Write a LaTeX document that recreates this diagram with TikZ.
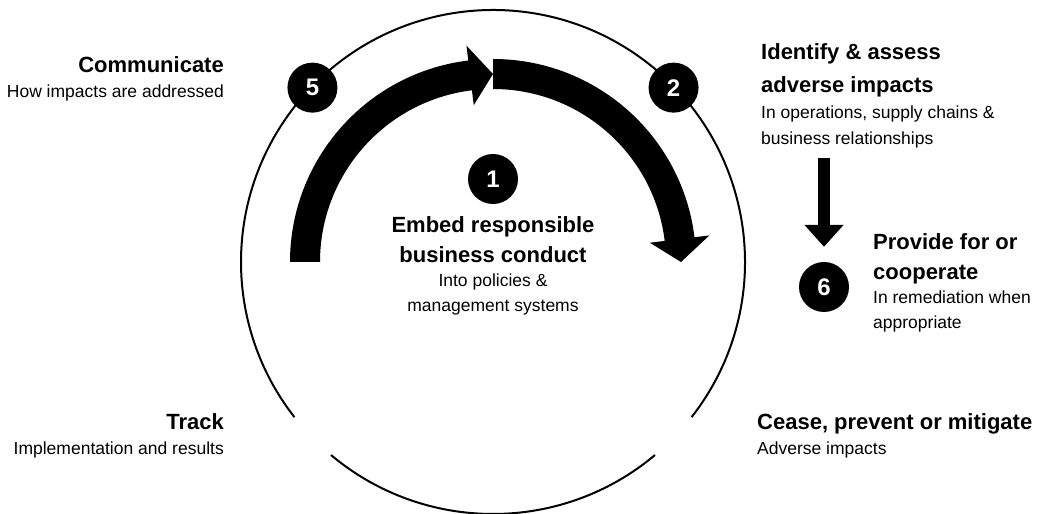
\documentclass[tikz,border=0pt]{standalone}
\usepackage{fontspec}
\setmainfont{Liberation Sans}
\usetikzlibrary{positioning, arrows.meta, calc}
\tikzset{
  ring/.style={line width=2pt, draw=black},
  band/.style={fill=black},
  badge/.style={circle, fill=black, text=white, minimum size=50pt, inner sep=0pt,
    font=\fontsize{24}{24}\selectfont\bfseries},
  ttl/.style={inner sep=0pt, font=\fontsize{22}{26}\selectfont\bfseries,
    text height=20pt, text depth=9pt},
  dsc/.style={inner sep=0pt, font=\fontsize{17.5}{20}\selectfont,
    text height=15pt, text depth=9pt},
  down/.style={-{Triangle[width=38pt,length=22pt]}, line width=12pt,
    shorten <=5pt, shorten >=15pt},
}

\begin{document}
\begin{tikzpicture}[x=1pt, y=1pt]
  \fill[white] (0,0) rectangle (1039,514);
  \useasboundingbox (0,0) rectangle (1039,514);
  \coordinate (c) at (493,252);

  % ring, open near steps 3 and 4
  \draw[ring] ($(c)+(-38:252)$) arc[start angle=-38, end angle=218, radius=252];
  \draw[ring] ($(c)+(230:252)$) arc[start angle=230, end angle=310, radius=252];

  % the two curved arrows
  \fill[band] ($(c)+(180:203)$) arc[start angle=180, end angle=97, radius=203]
    -- ($(c)+(97:218)$) -- ($(c)+(90:188)$) -- ($(c)+(97:158)$)
    -- ($(c)+(97:173)$) arc[start angle=97, end angle=180, radius=173] -- cycle;
  \fill[band] ($(c)+(90:203)$) arc[start angle=90, end angle=7, radius=203]
    -- ($(c)+(7:218)$) -- ($(c)+(0:188)$) -- ($(c)+(7:158)$)
    -- ($(c)+(7:173)$) arc[start angle=7, end angle=90, radius=173] -- cycle;

  % number badges
  \node[badge] (m1) at (493,335) {1};
  \node[badge] (m5) at ($(c)+(136:251)$) {5};
  \node[badge] (m2) at ($(c)+(44:251)$) {2};
  \node[badge] (m6) at (824,227) {6};

  % 1
  \node[ttl, anchor=base] (embed) at (493,281) {Embed responsible};
  \node[ttl, below=0pt of embed] (embedb) {business conduct};
  \node[dsc, below=0pt of embedb] (embedc) {Into policies \&};
  \node[dsc, below=0pt of embedc] (embedd) {management systems};

  % 2
  \node[ttl, anchor=base west] (ident) at (761,454) {Identify \& assess};
  \node[ttl, below=3pt of ident.south west, anchor=north west] (identb) {adverse impacts};
  \node[dsc, below=2pt of identb.south west, anchor=north west] (identc) {In operations, supply chains \&};
  \node[dsc, below=1pt of identc.south west, anchor=north west] (identd) {business relationships};

  % 6
  \node[ttl, anchor=base west] (remedy) at (873,264) {Provide for or};
  \node[ttl, below=0pt of remedy.south west, anchor=north west] (remedyb) {cooperate};
  \node[dsc, below=0pt of remedyb.south west, anchor=north west] (remedyc) {In remediation when};
  \node[dsc, below=0pt of remedyc.south west, anchor=north west] (remedyd) {appropriate};

  % 3
  \node[ttl, anchor=base west] (cease) at (757,84) {Cease, prevent or mitigate};
  \node[dsc, below=0pt of cease.south west, anchor=north west] (ceaseb) {Adverse impacts};

  % 4
  \node[ttl, anchor=base east] (track) at (224,84) {Track};
  \node[dsc, below=0pt of track.south east, anchor=north east] (trackb) {Implementation and results};

  % 5
  \node[ttl, anchor=base east] (comm) at (224,441) {Communicate};
  \node[dsc, below=0pt of comm.south east, anchor=north east] (commb) {How impacts are addressed};

  \draw[down] (identd.south -| m6) -- (m6);
\end{tikzpicture}
\end{document}
